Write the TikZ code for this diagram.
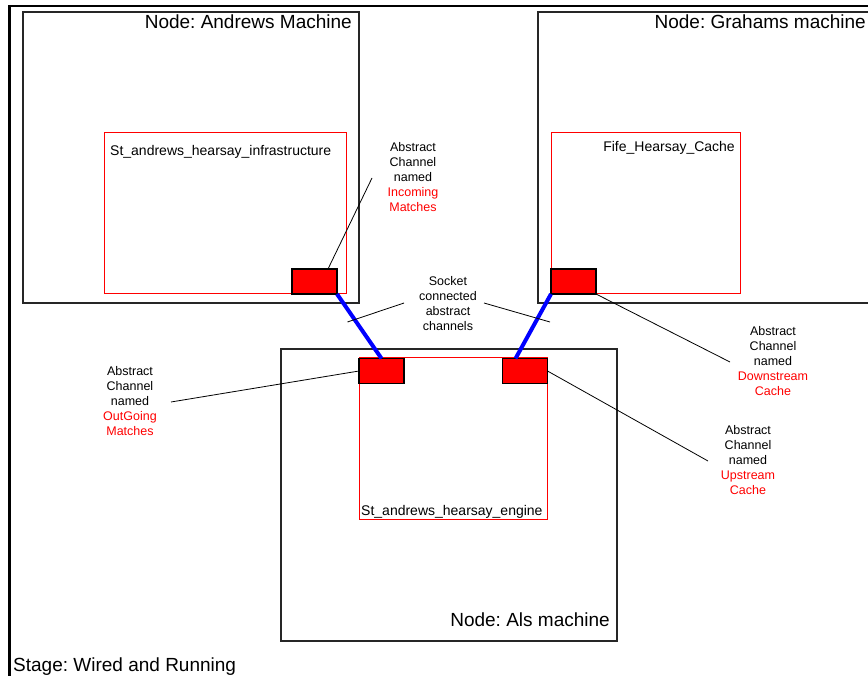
\documentclass[tikz,border=0pt]{standalone}
\usepackage{fontspec}
\setmainfont{Liberation Sans}
\usetikzlibrary{calc}
\frenchspacing

\begin{document}
\begin{tikzpicture}[x=1pt,y=-1pt,
		machine/.style={rectangle,draw=black!85,line width=1.3pt,inner sep=0pt,outer sep=0pt,anchor=north west},
		component/.style={rectangle,draw=red,line width=1pt,inner sep=0pt,outer sep=0pt,anchor=north west},
		channel/.style={rectangle,draw=black,fill=red,line width=1.2pt,inner sep=0pt,outer sep=0pt,anchor=north west,minimum width=45pt,minimum height=25pt},
		title/.style={inner sep=0pt,font=\fontsize{19}{23}\selectfont},
		compname/.style={inner sep=0pt,font=\fontsize{14}{17}\selectfont},
		note/.style={align=center,inner sep=0pt,font=\fontsize{12.5}{15}\selectfont},
		socket/.style={blue,line width=4pt},
		pointer/.style={black,line width=0.8pt}]
		\clip (0,0) rectangle (868,676);
		\fill[white] (0,0) rectangle (868,676);
		% stage frame
		\draw[line width=2.3pt] (9.5,700) -- (9.5,6) -- (900,6);
		
		\node[machine,minimum width=336pt,minimum height=291pt] (andrews) at (23,12) {};
		\node[machine,minimum width=400pt,minimum height=291pt] (grahams) at (538,12) {};
		\node[machine,minimum width=336pt,minimum height=292pt] (als) at (281,349) {};
		
		\node[component,minimum width=242pt,minimum height=161pt] (infra) at (104,133) {};
		\node[component,minimum width=189pt,minimum height=161pt] (fife) at (551,133) {};
		\node[component,minimum width=188pt,minimum height=161pt] (engine) at (359,358) {};
		
		\node[channel] (incoming) at (292,269) {};
		\node[channel] (downstream) at (551,269) {};
		\node[channel] (outgoing) at (359,358.5) {};
		\node[channel] (upstream) at (502.5,358.5) {};
		
		\node[title,anchor=base east] (andrewsname) at (352,29) {Node: Andrews Machine};
		\node[title,anchor=base east] (grahamsname) at (866,29) {Node: Grahams machine};
		\node[title,anchor=base east] (alsname) at (610,626) {Node: Als machine};
		\node[title,anchor=base west] (stage) at (13,671.5) {Stage: Wired and Running};
		
		\node[compname,anchor=base west] (infraname) at (110,156) {St\_andrews\_hearsay\_infrastructure};
		\node[compname,anchor=base east] (fifename) at (735,152) {Fife\_Hearsay\_Cache};
		\node[compname,anchor=base west] (enginename) at (361,515) {St\_andrews\_hearsay\_engine};
		
		% sockets
		\draw[socket] (incoming.south east) -- (outgoing.north);
		\draw[socket] (downstream.south west) -- ($(upstream.north west)!0.29!(upstream.north east)$);
		
		\node[note] (incomingnote) at (413,177) {Abstract\\Channel\\named\\\textcolor{red}{Incoming}\\\textcolor{red}{Matches}};
		\node[note] (socketnote) at (448,303.5) {Socket\\connected\\abstract\\channels};
		\node[note] (downstreamnote) at (773,361) {Abstract\\Channel\\named\\\textcolor{red}{Downstream}\\\textcolor{red}{Cache}};
		\node[note] (upstreamnote) at (748,460) {Abstract\\Channel\\named\\\textcolor{red}{Upstream}\\\textcolor{red}{Cache}};
		\node[note] (outgoingnote) at (130,401.5) {Abstract\\Channel\\named\\\textcolor{red}{OutGoing}\\\textcolor{red}{Matches}};
		
		\coordinate (incomingtip) at (372,178);
		\coordinate (socketl) at (404,303);
		\coordinate (socketlend) at (347.5,322);
		\coordinate (socketr) at (484,303);
		\coordinate (socketrend) at (550,322);
		\coordinate (downstreamtip) at (730,362);
		\coordinate (upstreamtip) at (708,461);
		\coordinate (outgoingtip) at (171,402);
		
		\draw[pointer] (incomingtip) -- ($(incoming.north west)!0.8!(incoming.north east)$);
		\draw[pointer] (socketl) -- (socketlend);
		\draw[pointer] (socketr) -- (socketrend);
		\draw[pointer] (downstream.south east) -- (downstreamtip);
		\draw[pointer] (upstream.east) -- (upstreamtip);
		\draw[pointer] (outgoing.west) -- (outgoingtip);
		
\end{tikzpicture}
\end{document}
